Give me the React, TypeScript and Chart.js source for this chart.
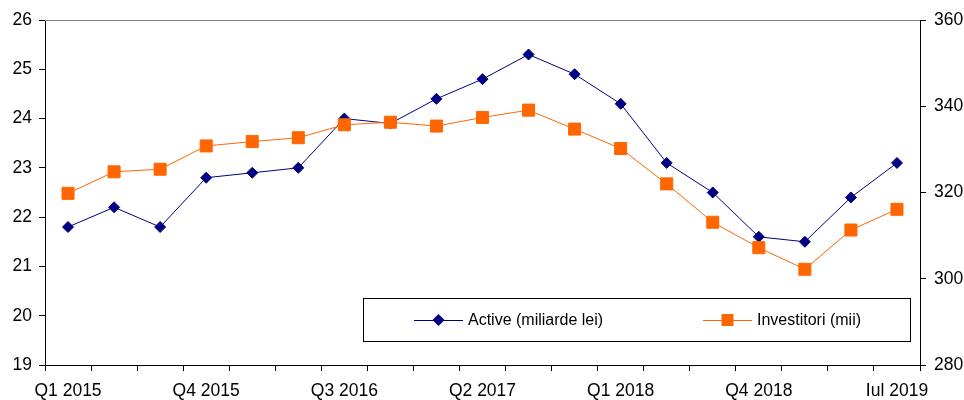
import React, { useEffect, useRef } from 'react';
import { Chart, registerables } from 'chart.js';

Chart.register(...registerables);

const categories = [
  'Q1 2015', 'Q2 2015', 'Q3 2015', 'Q4 2015',
  'Q1 2016', 'Q2 2016', 'Q3 2016', 'Q4 2016',
  'Q1 2017', 'Q2 2017', 'Q3 2017', 'Q4 2017',
  'Q1 2018', 'Q2 2018', 'Q3 2018', 'Q4 2018',
  'Q1 2019', 'Q2 2019', 'Iul 2019',
];
const shownLabels = ['Q1 2015', 'Q4 2015', 'Q3 2016', 'Q2 2017', 'Q1 2018', 'Q4 2018', 'Iul 2019'];

const activeValues = [
  21.8, 22.2, 21.8, 22.8, 22.9, 23.0, 24.0, 23.9, 24.4, 24.8,
  25.3, 24.9, 24.3, 23.1, 22.5, 21.6, 21.5, 22.4, 23.1,
];
const investorValues = [
  319.8, 324.8, 325.4, 330.8, 331.8, 332.7, 335.7, 336.3, 335.4, 337.4,
  339.1, 334.7, 330.2, 322.0, 313.1, 307.2, 302.2, 311.3, 316.1,
];

const leftTicks = [19, 20, 21, 22, 23, 24, 25, 26];
const rightTicks = [280, 300, 320, 340, 360];

const activeLabel = 'Active (miliarde lei)';
const investorLabel = 'Investitori (mii)';

const FONT = 'Arial, "Liberation Sans", sans-serif';
const NAVY = '#000080';
const ORANGE = '#FF6600';

const frameAndLegend = {
  id: 'frameAndLegend',
  beforeDatasetsDraw(chart: any) {
    const { ctx, chartArea } = chart;
    ctx.save();
    ctx.strokeStyle = '#808080';
    ctx.lineWidth = 1;
    ctx.beginPath();
    ctx.moveTo(chartArea.left, chartArea.top + 0.5);
    ctx.lineTo(chartArea.right, chartArea.top + 0.5);
    ctx.stroke();
    ctx.restore();
  },
  afterDraw(chart: any) {
    const { ctx, chartArea } = chart;
    const bx = chartArea.left + 318;
    const by = chartArea.top + 278;
    const bw = chartArea.right - 10 - bx;
    const bh = 43;
    ctx.save();
    ctx.fillStyle = '#ffffff';
    ctx.fillRect(bx, by, bw, bh);
    ctx.strokeStyle = '#000000';
    ctx.lineWidth = 1;
    ctx.strokeRect(bx + 0.5, by + 0.5, bw, bh);
    const cy = by + 22;
    const items = chart.data.datasets;
    const xs = [bx + 51, bx + 340];
    const order = [1, 0];
    order.forEach((di: number, k: number) => {
      const ds = items[di];
      const x0 = xs[k];
      ctx.strokeStyle = ds.borderColor;
      ctx.lineWidth = 1;
      ctx.beginPath();
      ctx.moveTo(x0, cy + 0.5);
      ctx.lineTo(x0 + 49, cy + 0.5);
      ctx.stroke();
      ctx.fillStyle = ds.backgroundColor;
      const mx = x0 + 24.5;
      ctx.beginPath();
      if (ds.pointStyle === 'rectRot') {
        const r = 6;
        ctx.moveTo(mx, cy - r);
        ctx.lineTo(mx + r, cy);
        ctx.lineTo(mx, cy + r);
        ctx.lineTo(mx - r, cy);
        ctx.closePath();
      } else {
        const h = 6;
        ctx.rect(mx - h, cy - h, 2 * h, 2 * h);
      }
      ctx.fill();
      ctx.fillStyle = '#000000';
      ctx.font = `16px ${FONT}`;
      ctx.textBaseline = 'middle';
      ctx.textAlign = 'left';
      ctx.fillText(ds.label, x0 + 54, cy + 1);
    });
    ctx.restore();
  },
};

export default function App() {
  const canvasRef = useRef<HTMLCanvasElement | null>(null);

  useEffect(() => {
    const canvas = canvasRef.current;
    if (!canvas) return;
    const chart = new Chart(canvas, {
      type: 'line',
      data: {
        labels: categories,
        datasets: [
          {
            label: investorLabel,
            data: investorValues,
            yAxisID: 'y1',
            borderColor: ORANGE,
            backgroundColor: ORANGE,
            borderWidth: 1,
            pointStyle: 'rect',
            pointRadius: 8.5,
            pointBorderWidth: 1,
            pointBorderColor: ORANGE,
            pointBackgroundColor: ORANGE,
            tension: 0,
            order: 0,
          },
          {
            label: activeLabel,
            data: activeValues,
            yAxisID: 'y',
            borderColor: NAVY,
            backgroundColor: NAVY,
            borderWidth: 1,
            pointStyle: 'rectRot',
            pointRadius: 5.5,
            pointBorderWidth: 1,
            pointBorderColor: NAVY,
            pointBackgroundColor: NAVY,
            tension: 0,
            order: 1,
          },
        ],
      },
      options: {
        responsive: false,
        animation: false,
        devicePixelRatio: 1,
        layout: { padding: { top: 20, left: 0, right: 0, bottom: 0 } },
        plugins: {
          legend: { display: false },
          tooltip: { enabled: false },
        },
        scales: {
          x: {
            type: 'category',
            offset: true,
            grid: {
              offset: true,
              drawOnChartArea: false,
              drawTicks: true,
              tickLength: 6,
              color: '#000000',
            },
            border: { color: '#000000', width: 1 },
            ticks: {
              autoSkip: false,
              maxRotation: 0,
              minRotation: 0,
              padding: 10,
              color: '#000000',
              font: { family: FONT, size: 17.5 },
              callback: (_v: any, i: number) =>
                shownLabels.includes(categories[i]) ? categories[i] : '',
            },
            afterFit: (s: any) => { s.height = 35; },
          },
          y: {
            position: 'left',
            min: leftTicks[0],
            max: leftTicks[leftTicks.length - 1],
            afterBuildTicks: (s: any) => { s.ticks = leftTicks.map((v) => ({ value: v })); },
            grid: {
              drawOnChartArea: false,
              drawTicks: true,
              tickLength: 6,
              color: '#000000',
            },
            border: { color: '#000000', width: 1 },
            ticks: {
              padding: 7,
              color: '#000000',
              font: { family: FONT, size: 17.5 },
            },
            afterFit: (s: any) => { s.width = 45; },
          },
          y1: {
            position: 'right',
            min: rightTicks[0],
            max: rightTicks[rightTicks.length - 1],
            afterBuildTicks: (s: any) => { s.ticks = rightTicks.map((v) => ({ value: v })); },
            grid: {
              drawOnChartArea: false,
              drawTicks: true,
              tickLength: 6,
              color: '#000000',
            },
            border: { color: '#000000', width: 1 },
            ticks: {
              padding: 8,
              color: '#000000',
              font: { family: FONT, size: 17.5 },
            },
            afterFit: (s: any) => { s.width = 44; },
          },
        },
      },
      plugins: [frameAndLegend],
    });
    return () => chart.destroy();
  }, []);

  return (
    <div style={{ position: 'absolute', left: 0, top: 0, width: 964, height: 400, background: '#ffffff' }}>
      <canvas ref={canvasRef} width={964} height={400} />
    </div>
  );
}
